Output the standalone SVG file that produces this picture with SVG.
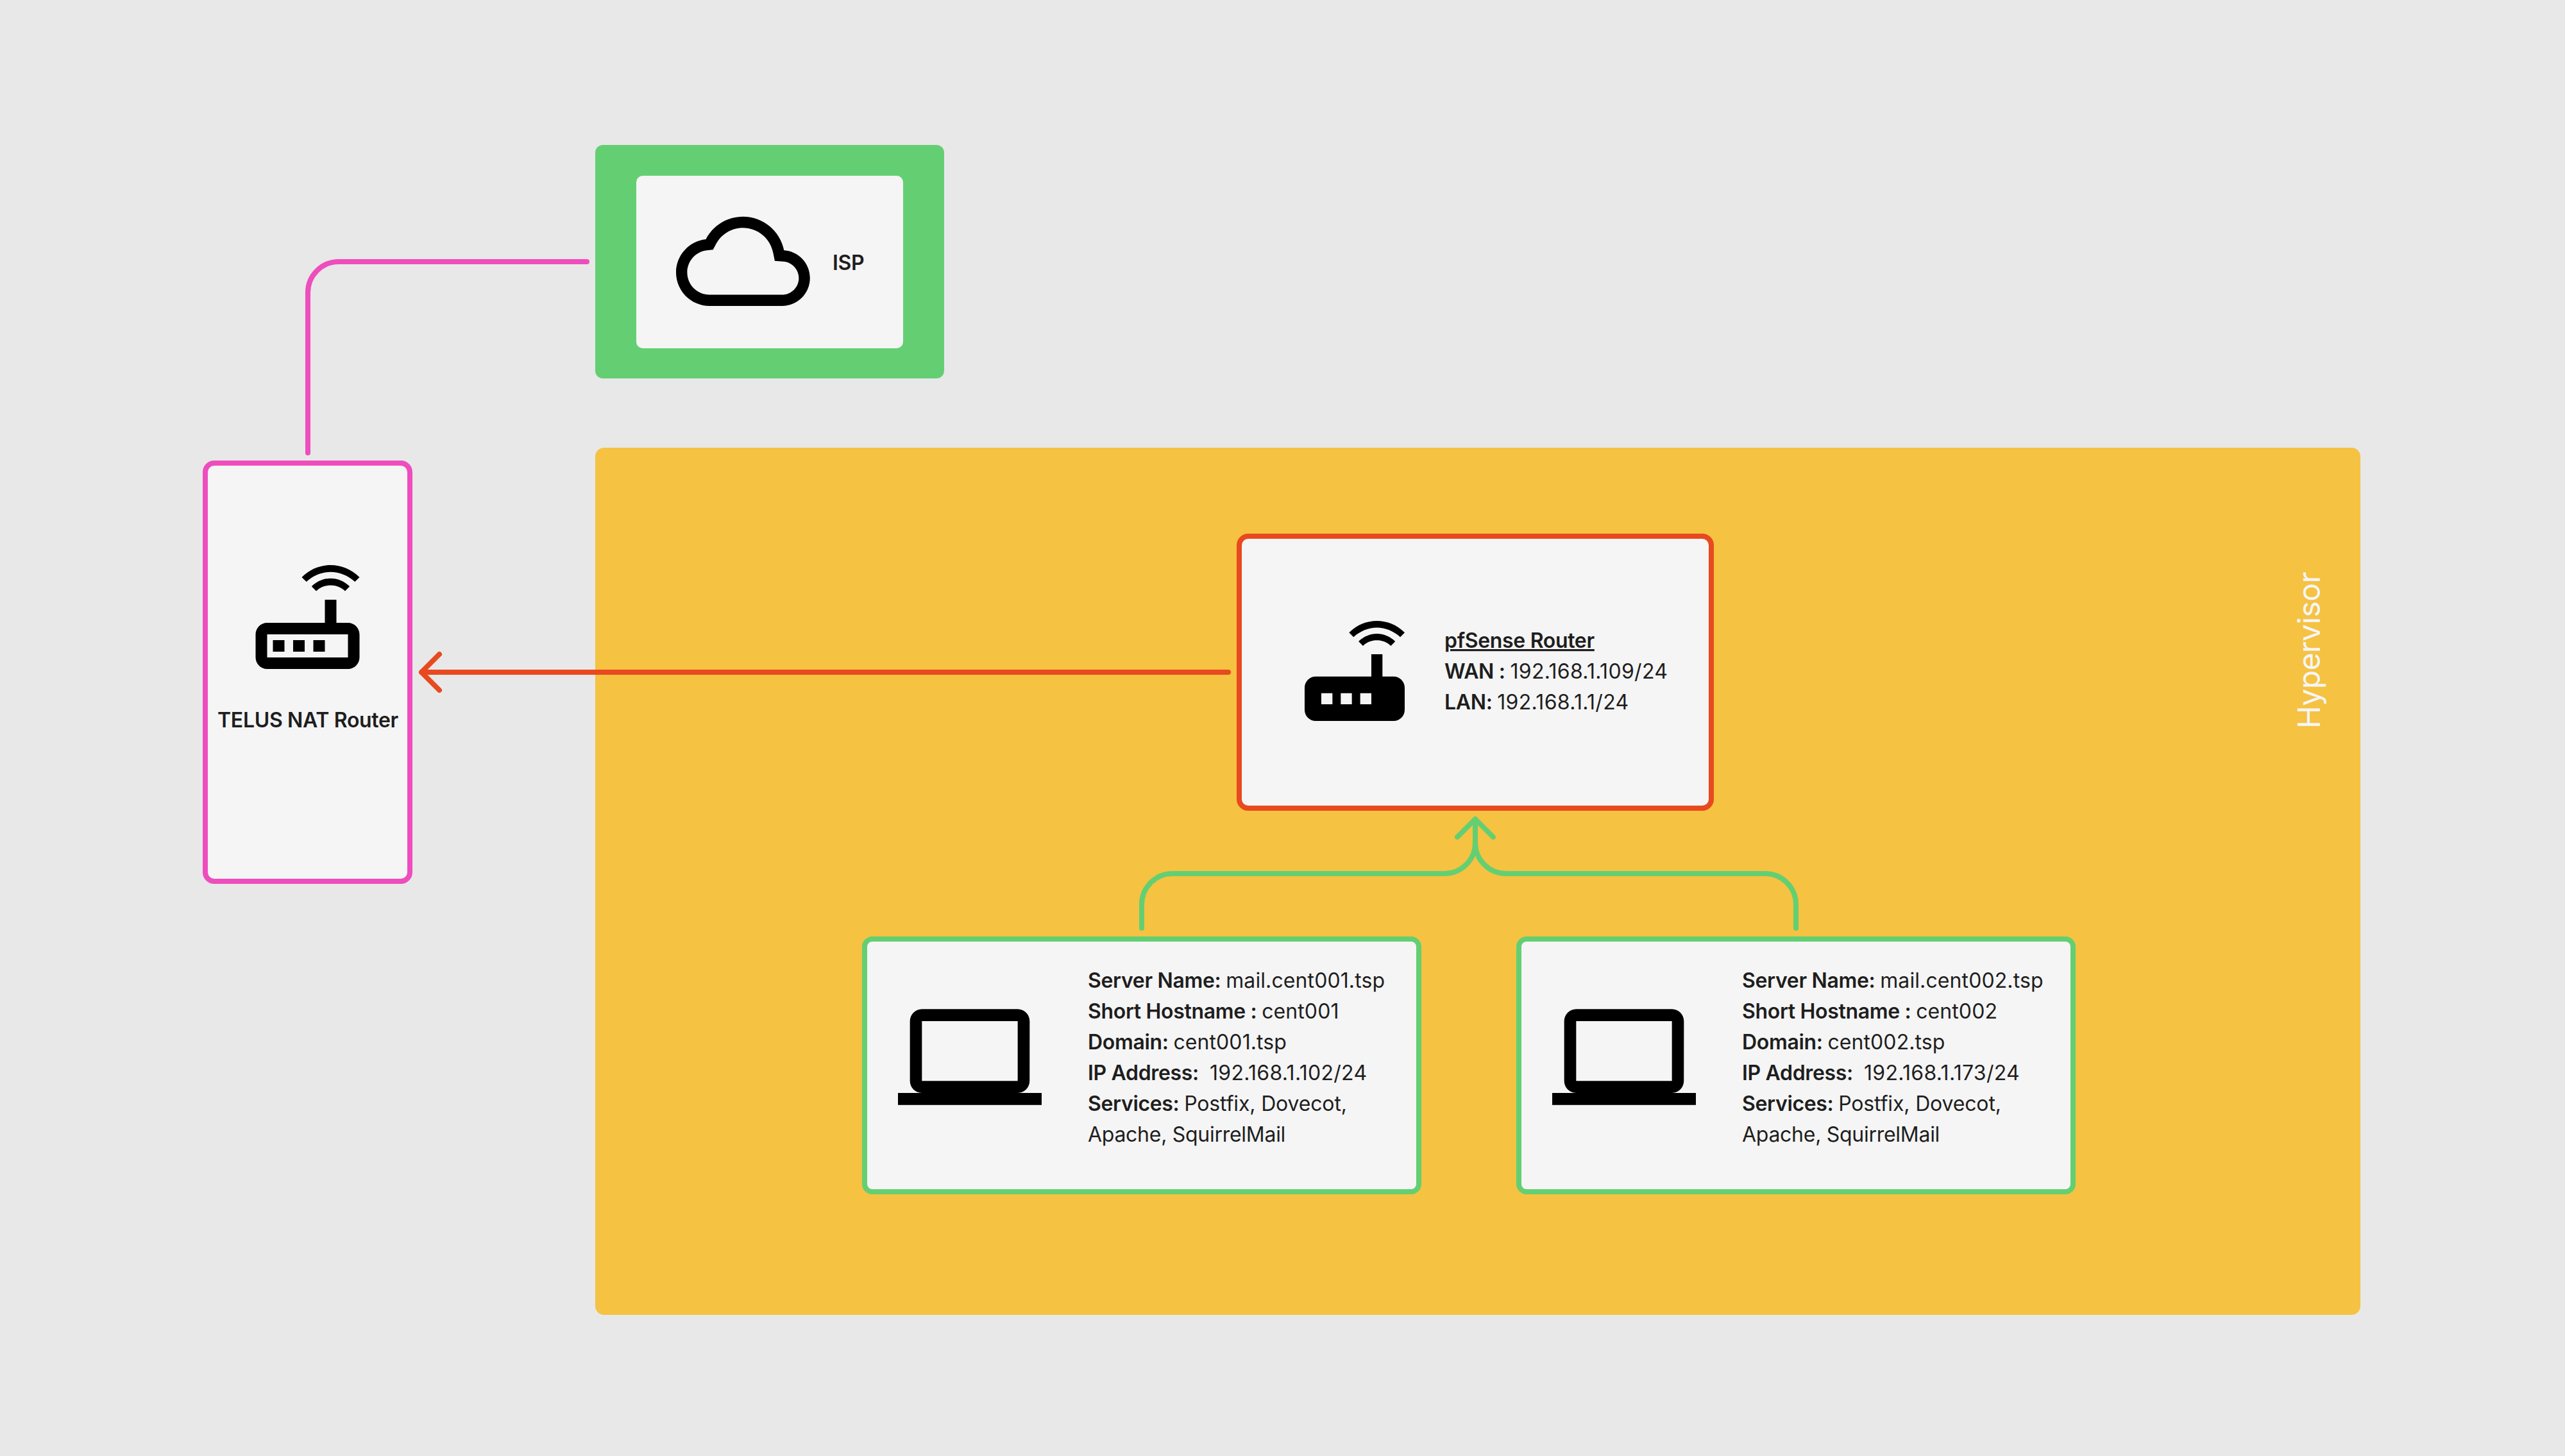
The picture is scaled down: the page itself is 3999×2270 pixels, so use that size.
<svg xmlns="http://www.w3.org/2000/svg" xmlns:xlink="http://www.w3.org/1999/xlink" width="3999" height="2270" viewBox="0 0 3999 2270">
<style>
text{font-family:Inter,"Liberation Sans",sans-serif;font-size:32px;fill:#1e1e1e;letter-spacing:-.15px}
.b{font-weight:600;letter-spacing:-.33px}
.n{letter-spacing:.3px}
.h{letter-spacing:.1px}
.a{letter-spacing:-.28px}
.card{fill:#f5f5f5;stroke-width:8}
.conn{fill:none;stroke-width:8;stroke-linecap:round;stroke-linejoin:round}
</style>
<defs>
<path id="router-o" d="M16 4.2c1.5 0 3 .6 4.2 1.7l.8-.8C19.6 3.7 17.8 3 16 3s-3.6.7-5 2.1l.8.8C13 4.8 14.5 4.2 16 4.2zm-3.3 2.5l.8.8c.7-.7 1.6-1 2.5-1s1.8.3 2.5 1l.8-.8c-.9-.9-2.1-1.4-3.3-1.4s-2.4.5-3.3 1.4zM19 13h-2V9h-2v4H5c-1.1 0-2 .9-2 2v4c0 1.1.9 2 2 2h14c1.1 0 2-.9 2-2v-4c0-1.1-.9-2-2-2zm0 6H5v-4h14v4zM6 16h2v2H6zm3.5 0h2v2h-2zm3.5 0h2v2h-2z"/>
<path id="router-f" d="M20.2 5.9l.8-.8C19.6 3.7 17.8 3 16 3s-3.6.7-5 2.1l.8.8C13 4.8 14.5 4.2 16 4.2s3 .6 4.2 1.7zm-.9.8c-.9-.9-2.1-1.4-3.3-1.4s-2.4.5-3.3 1.4l.8.8c.7-.7 1.6-1 2.5-1 .9 0 1.8.3 2.5 1l.8-.8zM19 13h-2V9h-2v4H5c-1.1 0-2 .9-2 2v4c0 1.1.9 2 2 2h14c1.1 0 2-.9 2-2v-4c0-1.1-.9-2-2-2zM8 18H6v-2h2v2zm3.5 0h-2v-2h2v2zm3.5 0h-2v-2h2v2z"/>
<path id="laptop" d="M20 18c1.1 0 1.99-.9 1.99-2L22 6c0-1.1-.9-2-2-2H4c-1.1 0-2 .9-2 2v10c0 1.1.9 2 2 2H0v2h24v-2h-4zM4 6h16v10H4V6z"/>
<path id="cloud" d="M19.35 10.04C18.67 6.59 15.64 4 12 4 9.11 4 6.6 5.64 5.35 8.04 2.34 8.36 0 10.91 0 14c0 3.31 2.69 6 6 6h13c2.76 0 5-2.24 5-5 0-2.64-2.05-4.78-4.65-4.96zM19 18H6c-2.21 0-4-1.79-4-4 0-2.05 1.53-3.76 3.56-3.97l1.07-.11.5-.95C8.08 7.14 9.94 6 12 6c2.62 0 4.88 1.86 5.39 4.43l.3 1.5 1.53.11c1.56.1 2.78 1.41 2.78 2.96 0 1.65-1.35 3-3 3z"/>
</defs>
<rect width="3999" height="2270" fill="#e8e8e8"/>
<g id="hypervisor">
<rect x="928" y="698" width="2752" height="1352" rx="14" fill="#f5c242"/>
<text transform="translate(3617 1136) rotate(-90)" style="font-size:48px;fill:#f5f5f5;letter-spacing:-.6px">Hypervisor</text>
</g>
<g id="isp">
<rect x="928" y="226" width="544" height="364" rx="12" fill="#64cf72"/>
<rect x="992" y="274" width="416" height="269" rx="10" fill="#f5f5f5"/>
<use xlink:href="#cloud" href="#cloud" transform="translate(1054 303) scale(8.7)"/>
<text class="b" x="1298" y="421">ISP</text>
</g>
<g id="telus-router">
<rect class="card" x="320" y="722" width="319" height="652" rx="14" stroke="#ee4dbd"/>
<use xlink:href="#router-o" href="#router-o" transform="translate(371.5 854) scale(9)"/>
<text class="b" x="480" y="1134" text-anchor="middle">TELUS NAT Router</text>
</g>
<g id="pfsense-router">
<rect class="card" x="1932" y="836" width="736" height="424" rx="14" stroke="#e8491f"/>
<use xlink:href="#router-f" href="#router-f" transform="translate(2008 942) scale(8.667)"/>
<text class="b" x="2252" y="1010" text-decoration="underline">pfSense Router</text>
<text x="2252" y="1058"><tspan class="b">WAN : </tspan><tspan class="n">192.168.1.109/24</tspan></text>
<text x="2252" y="1106"><tspan class="b">LAN: </tspan><tspan class="n">192.168.1.1/24</tspan></text>
</g>
<g id="cent001">
<rect class="card" x="1348" y="1464" width="864" height="394" rx="12" stroke="#64cf72"/>
<use xlink:href="#laptop" href="#laptop" transform="translate(1400 1536) scale(9.333)"/>
<text x="1696" y="1540"><tspan class="b">Server Name: </tspan><tspan class="h">mail.cent001.tsp</tspan></text>
<text x="1696" y="1588"><tspan class="b">Short Hostname : </tspan><tspan class="h">cent001</tspan></text>
<text x="1696" y="1636"><tspan class="b">Domain: </tspan><tspan class="h">cent001.tsp</tspan></text>
<text x="1696" y="1684" xml:space="preserve"><tspan class="b">IP Address: </tspan><tspan class="n"> 192.168.1.102/24</tspan></text>
<text x="1696" y="1732"><tspan class="b">Services: </tspan>Postfix, Dovecot,</text>
<text class="a" x="1696" y="1780">Apache, SquirrelMail</text>
</g>
<g id="cent002">
<rect class="card" x="2368" y="1464" width="864" height="394" rx="12" stroke="#64cf72"/>
<use xlink:href="#laptop" href="#laptop" transform="translate(2420 1536) scale(9.333)"/>
<text x="2716" y="1540"><tspan class="b">Server Name: </tspan><tspan class="h">mail.cent002.tsp</tspan></text>
<text x="2716" y="1588"><tspan class="b">Short Hostname : </tspan><tspan class="h">cent002</tspan></text>
<text x="2716" y="1636"><tspan class="b">Domain: </tspan><tspan class="h">cent002.tsp</tspan></text>
<text x="2716" y="1684" xml:space="preserve"><tspan class="b">IP Address: </tspan><tspan class="n"> 192.168.1.173/24</tspan></text>
<text x="2716" y="1732"><tspan class="b">Services: </tspan>Postfix, Dovecot,</text>
<text class="a" x="2716" y="1780">Apache, SquirrelMail</text>
</g>
<g id="connectors">
<path class="conn" stroke="#ee4dbd" d="M915 408H528a48 48 0 0 0-48 48V706"/>
<path class="conn" stroke="#e8491f" d="M1915 1048H657M685 1020l-28 28 28 28"/>
<path class="conn" stroke="#64cf72" d="M1780 1447V1410a48 48 0 0 1 48-48H2252a48 48 0 0 0 48-48V1277M2272 1305l28-28 28 28"/>
<path class="conn" stroke="#64cf72" d="M2800 1447V1410a48 48 0 0 0-48-48H2348a48 48 0 0 1-48-48"/>
</g>
</svg>
